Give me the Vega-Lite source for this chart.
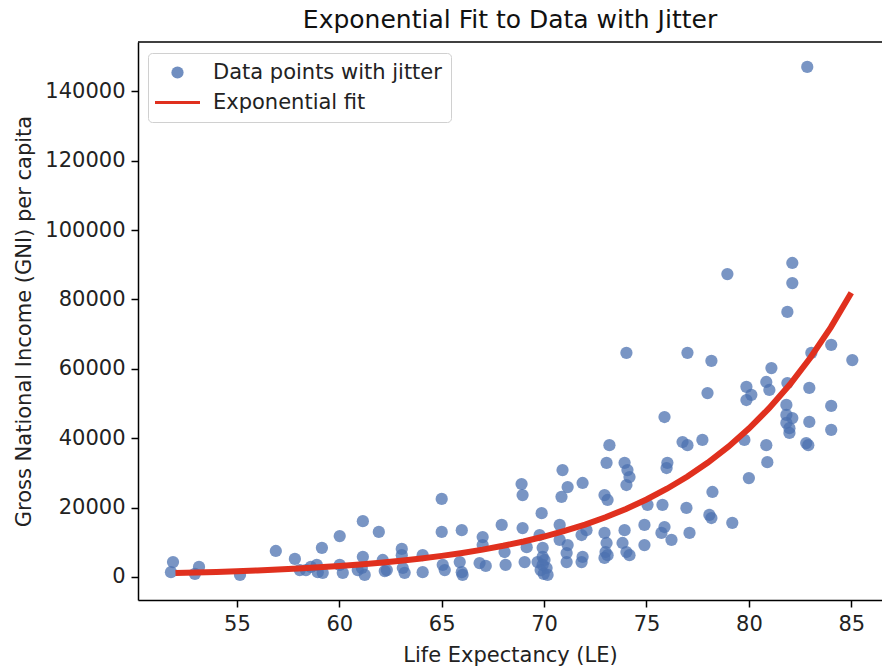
{
  "$schema": "https://vega.github.io/schema/vega-lite/v6.json",
  "width": 744,
  "height": 558,
  "autosize": {"type": "none"},
  "padding": {"left": 138, "top": 42, "right": 0, "bottom": 68},
  "background": "white",
  "config": {
    "view": {"stroke": null},
    "font": "DejaVu Sans",
    "axis": {
      "domainColor": "#000000", "domainWidth": 1.5, "tickColor": "#000000", "tickWidth": 1.5, "tickSize": 7,
      "labelFont": "DejaVu Sans", "labelFontSize": 21, "labelColor": "#222222", "labelPadding": 6,
      "titleFont": "DejaVu Sans", "titleFontSize": 21, "titleFontWeight": "normal", "titleColor": "#222222",
      "grid": false
    }
  },
  "title": {"text": "Exponential Fit to Data with Jitter", "fontSize": 25, "font": "DejaVu Sans", "fontWeight": "normal", "color": "#111111", "anchor": "middle", "offset": 8},
  "datasets": {
    "points": [
      {"LE":51.78,"GNI":1400},{"LE":51.88,"GNI":4300},{"LE":52.95,"GNI":900},{"LE":53.15,"GNI":2900},{"LE":55.15,"GNI":600},
      {"LE":56.9,"GNI":7500},{"LE":57.83,"GNI":5200},{"LE":58.07,"GNI":2000},{"LE":58.37,"GNI":2000},{"LE":58.61,"GNI":2900},
      {"LE":58.9,"GNI":3500},{"LE":59.15,"GNI":8400},{"LE":59.19,"GNI":1200},{"LE":58.95,"GNI":1400},{"LE":60.02,"GNI":11800},
      {"LE":60.02,"GNI":3500},{"LE":60.17,"GNI":1200},{"LE":61.15,"GNI":16100},{"LE":61.15,"GNI":5800},{"LE":61.1,"GNI":2600},
      {"LE":61.24,"GNI":600},{"LE":60.9,"GNI":2000},{"LE":61.93,"GNI":13000},{"LE":62.12,"GNI":4900},{"LE":62.22,"GNI":1700},
      {"LE":62.32,"GNI":2000},{"LE":63.05,"GNI":8100},{"LE":63.05,"GNI":6300},{"LE":63.1,"GNI":2600},{"LE":63.19,"GNI":1200},
      {"LE":64.07,"GNI":6300},{"LE":64.07,"GNI":1400},{"LE":65,"GNI":22500},{"LE":65,"GNI":13000},{"LE":65.05,"GNI":3500},
      {"LE":65.15,"GNI":2000},{"LE":65.88,"GNI":4300},{"LE":65.98,"GNI":13500},{"LE":65.98,"GNI":1400},{"LE":66.02,"GNI":600},
      {"LE":67,"GNI":11500},{"LE":67,"GNI":9200},{"LE":66.85,"GNI":4000},{"LE":67.15,"GNI":3200},{"LE":67.93,"GNI":15000},
      {"LE":68.07,"GNI":7200},{"LE":68.12,"GNI":3500},{"LE":68.9,"GNI":26800},{"LE":68.95,"GNI":23600},{"LE":68.95,"GNI":14100},
      {"LE":69.15,"GNI":8600},{"LE":69.05,"GNI":4300},{"LE":69.88,"GNI":18400},{"LE":69.78,"GNI":12100},{"LE":69.93,"GNI":8400},
      {"LE":69.93,"GNI":5800},{"LE":69.93,"GNI":3500},{"LE":70.12,"GNI":2600},{"LE":69.68,"GNI":4300},{"LE":69.98,"GNI":900},
      {"LE":70.02,"GNI":4900},{"LE":69.83,"GNI":2000},{"LE":70.17,"GNI":600},{"LE":70.85,"GNI":23100},{"LE":71.15,"GNI":25900},
      {"LE":70.76,"GNI":15000},{"LE":70.76,"GNI":10700},{"LE":71.15,"GNI":9200},{"LE":71.1,"GNI":6900},{"LE":71.1,"GNI":4300},
      {"LE":70.9,"GNI":30800},{"LE":71.88,"GNI":27100},{"LE":71.83,"GNI":12100},{"LE":71.88,"GNI":5800},{"LE":71.83,"GNI":4300},
      {"LE":72.07,"GNI":13500},{"LE":72.95,"GNI":23600},{"LE":73.1,"GNI":22200},{"LE":72.95,"GNI":12700},{"LE":73.05,"GNI":9800},
      {"LE":73,"GNI":7200},{"LE":72.95,"GNI":5500},{"LE":73.1,"GNI":6300},{"LE":73.19,"GNI":38000},{"LE":73.05,"GNI":32900},
      {"LE":74.02,"GNI":64600},{"LE":73.93,"GNI":32900},{"LE":74.07,"GNI":30800},{"LE":74.17,"GNI":28800},{"LE":74.02,"GNI":26500},
      {"LE":73.83,"GNI":9800},{"LE":73.93,"GNI":13500},{"LE":74.02,"GNI":7200},{"LE":74.17,"GNI":6300},{"LE":74.9,"GNI":15000},
      {"LE":74.9,"GNI":9200},{"LE":75.05,"GNI":20800},{"LE":75.78,"GNI":20800},{"LE":75.88,"GNI":14400},{"LE":75.73,"GNI":12700},
      {"LE":76.22,"GNI":10700},{"LE":75.88,"GNI":46100},{"LE":76.02,"GNI":32900},{"LE":75.98,"GNI":31400},{"LE":76.76,"GNI":38900},
      {"LE":77,"GNI":38000},{"LE":77,"GNI":64600},{"LE":77.73,"GNI":39500},{"LE":78.17,"GNI":62300},{"LE":77.98,"GNI":53000},
      {"LE":78.22,"GNI":24500},{"LE":76.95,"GNI":19900},{"LE":77.1,"GNI":12700},{"LE":78.07,"GNI":17900},{"LE":78.17,"GNI":17000},
      {"LE":79.19,"GNI":15600},{"LE":78.95,"GNI":87300},{"LE":80,"GNI":28500},{"LE":79.88,"GNI":54800},{"LE":80.85,"GNI":56200},
      {"LE":80.12,"GNI":52500},{"LE":79.88,"GNI":51000},{"LE":81,"GNI":53900},{"LE":81.88,"GNI":55900},{"LE":81.1,"GNI":60200},
      {"LE":83.05,"GNI":64600},{"LE":84.02,"GNI":66900},{"LE":85.05,"GNI":62500},{"LE":82.95,"GNI":54500},{"LE":84.02,"GNI":49300},
      {"LE":81.83,"GNI":49600},{"LE":81.83,"GNI":46700},{"LE":82.12,"GNI":45800},{"LE":81.83,"GNI":44400},{"LE":81.98,"GNI":42900},
      {"LE":81.98,"GNI":41500},{"LE":82.95,"GNI":44700},{"LE":84.02,"GNI":42400},{"LE":82.8,"GNI":38600},{"LE":82.9,"GNI":38000},
      {"LE":79.78,"GNI":39500},{"LE":80.85,"GNI":38000},{"LE":80.9,"GNI":33100},{"LE":82.12,"GNI":90500},{"LE":82.12,"GNI":84700},
      {"LE":81.88,"GNI":76400},{"LE":82.85,"GNI":147000}
    ],
    "fit": [
      {"LE":52,"GNI":1120},{"LE":53,"GNI":1280},{"LE":54,"GNI":1460},{"LE":55,"GNI":1660},{"LE":56,"GNI":1890},
      {"LE":57,"GNI":2150},{"LE":58,"GNI":2450},{"LE":59,"GNI":2790},{"LE":60,"GNI":3180},{"LE":61,"GNI":3620},
      {"LE":62,"GNI":4120},{"LE":63,"GNI":4690},{"LE":64,"GNI":5340},{"LE":65,"GNI":6080},{"LE":66,"GNI":6930},
      {"LE":67,"GNI":7890},{"LE":68,"GNI":8990},{"LE":69,"GNI":10240},{"LE":70,"GNI":11660},{"LE":71,"GNI":13280},
      {"LE":72,"GNI":15120},{"LE":73,"GNI":17220},{"LE":74,"GNI":19610},{"LE":75,"GNI":22330},{"LE":76,"GNI":25430},
      {"LE":77,"GNI":28960},{"LE":78,"GNI":32980},{"LE":79,"GNI":37560},{"LE":80,"GNI":42770},{"LE":81,"GNI":48710},
      {"LE":82,"GNI":55470},{"LE":83,"GNI":63170},{"LE":84,"GNI":71940},{"LE":85,"GNI":81930}
    ]
  },
  "layer": [
    {
      "data": {"name": "points"},
      "mark": {"type": "point", "filled": true, "shape": "circle", "size": 150, "opacity": 0.75, "strokeWidth": 0},
      "encoding": {
        "x": {"field": "LE", "type": "quantitative", "scale": {"domain": [50.17, 86.5], "nice": false, "zero": false},
              "axis": {"title": "Life Expectancy (LE)", "values": [55, 60, 65, 70, 75, 80, 85], "titlePadding": 10}},
        "y": {"field": "GNI", "type": "quantitative", "scale": {"domain": [-6630, 154180], "nice": false, "zero": false},
              "axis": {"title": "Gross National Income (GNI) per capita", "values": [0, 20000, 40000, 60000, 80000, 100000, 120000, 140000], "format": "d", "titlePadding": 10}},
        "color": {"datum": "Data points with jitter", "type": "nominal",
          "scale": {"domain": ["Data points with jitter", "Exponential fit"], "range": ["#4c72b0", "#e0301e"]},
          "legend": {
            "title": null, "orient": "none", "legendX": 10, "legendY": 11,
            "labelFont": "DejaVu Sans", "labelFontSize": 21, "labelColor": "#222222", "labelLimit": 0,
            "fillColor": "rgba(255,255,255,0.85)", "strokeColor": "#d0d0d0", "cornerRadius": 4, "padding": 9,
            "symbolSize": 225, "symbolOffset": 10, "labelOffset": 25, "rowPadding": 8,
            "encoding": {
              "symbols": {
                "shape": {"value": {"expr": "datum.value === 'Exponential fit' ? 'stroke' : 'circle'"}},
                "size": {"value": {"expr": "datum.value === 'Exponential fit' ? 2025 : 150"}},
                "strokeWidth": {"value": {"expr": "datum.value === 'Exponential fit' ? 3 : 0"}},
                "fill": {"value": {"expr": "datum.value === 'Exponential fit' ? 'transparent' : '#4c72b0'"}},
                "stroke": {"value": {"expr": "datum.value === 'Exponential fit' ? '#e0301e' : 'transparent'"}},
                "opacity": {"value": {"expr": "datum.value === 'Exponential fit' ? 1 : 0.8"}}
              }
            }
          }
        }
      }
    },
    {
      "data": {"name": "fit"},
      "mark": {"type": "line", "strokeWidth": 6},
      "encoding": {
        "x": {"field": "LE", "type": "quantitative"},
        "y": {"field": "GNI", "type": "quantitative"},
        "color": {"datum": "Exponential fit", "type": "nominal"}
      }
    },
    {
      "data": {"values": [{}]},
      "mark": {"type": "rule", "color": "#000000", "strokeWidth": 1.5},
      "encoding": {"y": {"datum": 154180, "type": "quantitative"}}
    }
  ]
}
